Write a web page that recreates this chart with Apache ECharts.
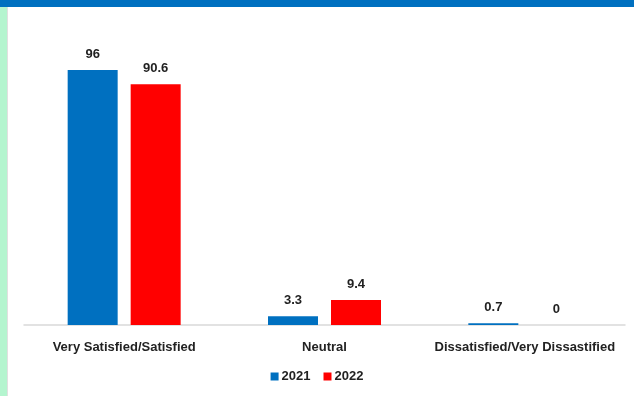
<!DOCTYPE html>
<html>
<head>
<meta charset="utf-8">
<script src="https://cdn.jsdelivr.net/npm/echarts@6/dist/echarts.min.js"></script>
<style>html,body{margin:0;padding:0;background:#fff}#c{width:634px;height:396px}</style>
</head>
<body>
<div id="c"></div>
<script>
const categories = ['Very Satisfied/Satisfied', 'Neutral', 'Dissatisfied/Very Dissastified'];
const seriesNames = ['2021', '2022'];
const values2021 = [96, 3.3, 0.7];
const values2022 = [90.6, 9.4, 0];

const chart = echarts.init(document.getElementById('c'));
const font = 'Liberation Sans';
chart.setOption({
  animation: false,
  textStyle: { fontFamily: font },
  graphic: [
    { type: 'rect', left: 0, top: 0, shape: { width: 634, height: 7 }, style: { fill: '#0070C0' }, z: 10 },
    { type: 'rect', left: 0, top: 7, shape: { width: 7, height: 389 }, style: { fill: '#B4F5CF' }, z: 10 },
    { type: 'rect', left: 7, top: 7, shape: { width: 1, height: 389 }, style: { fill: '#E0E0E0' }, z: 10 }
  ],
  legend: {
    data: seriesNames,
    bottom: 8,
    left: 'center',
    itemWidth: 8,
    itemHeight: 8,
    itemGap: 13,
    icon: 'rect',
    textStyle: { fontFamily: font, fontSize: 13, fontWeight: 'bold', color: '#222', padding: [0, 0, 0, -2] }
  },
  grid: { left: 24, right: 9, top: 59.4, bottom: 71, containLabel: false },
  xAxis: {
    type: 'category',
    data: categories,
    axisLine: { lineStyle: { color: '#D9D9D9', width: 1.5 } },
    axisTick: { show: false },
    axisLabel: { interval: 0, margin: 16, fontSize: 13, fontWeight: 'bold', color: '#222', fontFamily: font }
  },
  yAxis: {
    type: 'value', min: 0, max: 100, show: false, splitLine: { show: false }
  },
  series: [
    {
      name: seriesNames[0], type: 'bar', data: values2021, barWidth: 50, barGap: '26%',
      itemStyle: { color: '#0070C0' },
      label: { show: true, position: 'top', distance: 9, fontSize: 13, fontWeight: 'bold', color: '#222', fontFamily: font }
    },
    {
      name: seriesNames[1], type: 'bar', data: values2022, barWidth: 50,
      itemStyle: { color: '#FF0000' },
      label: { show: true, position: 'top', distance: 9, fontSize: 13, fontWeight: 'bold', color: '#222', fontFamily: font }
    }
  ]
});
</script>
</body>
</html>
